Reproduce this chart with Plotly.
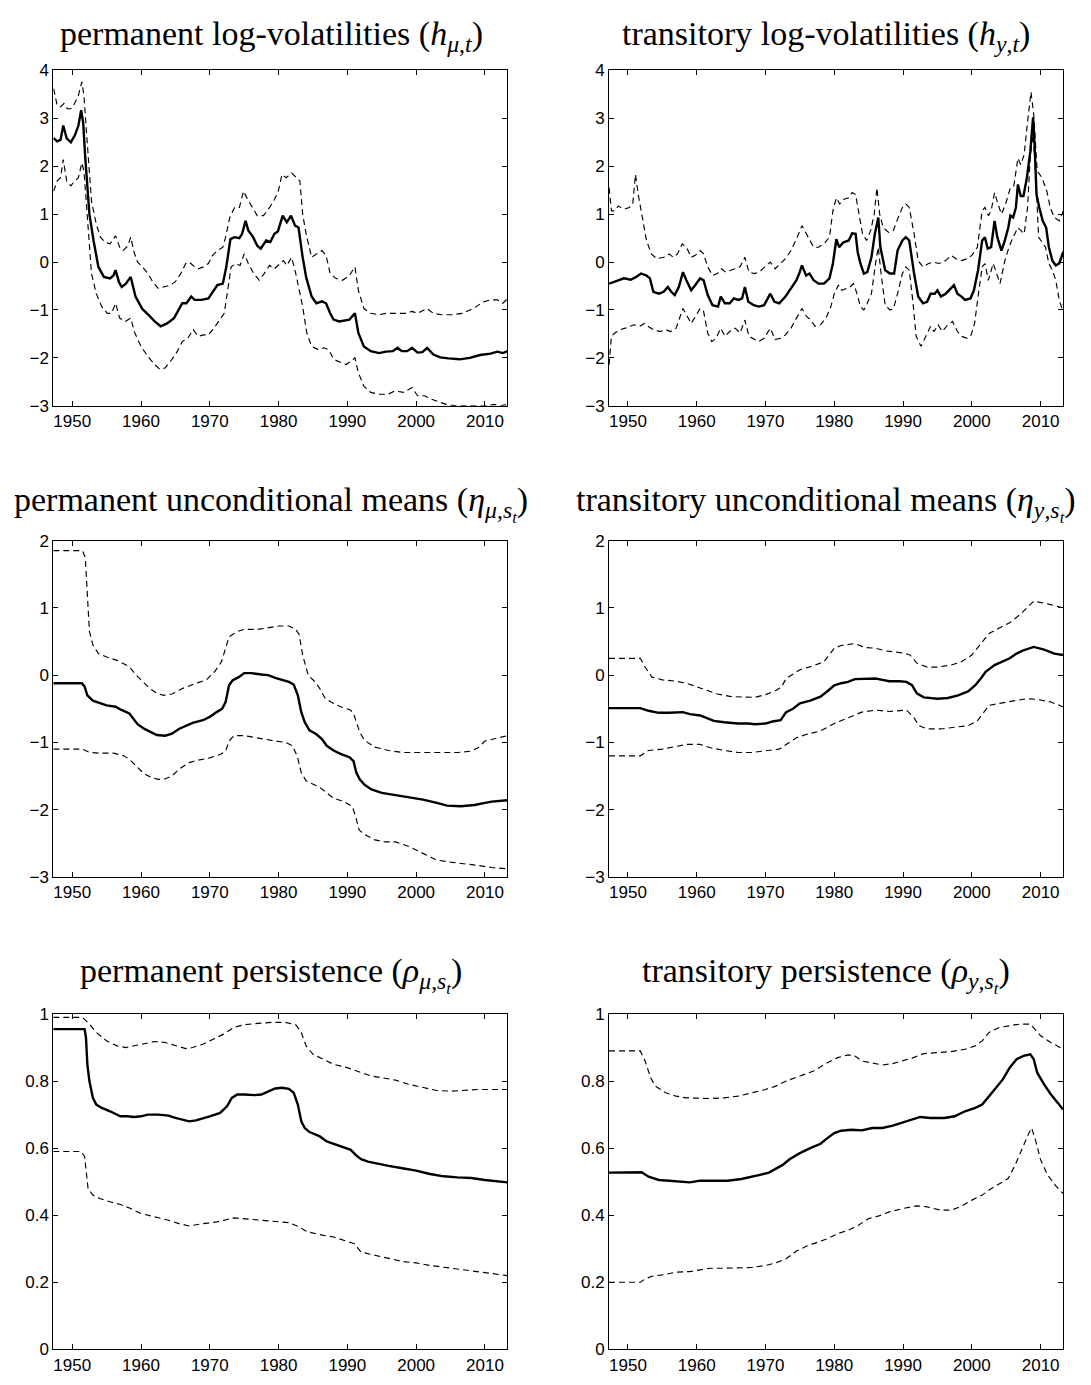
import plotly.graph_objects as go

# ---------------- data (year, value) ----------------
HMU_MED = [(1947.3, 2.59), (1947.8, 2.52), (1948.3, 2.55), (1948.7, 2.85), (1949.2, 2.58), (1949.8, 2.5), (1950.4, 2.65),
           (1950.9, 2.85), (1951.3, 3.17), (1951.6, 2.9), (1951.9, 2.17), (1952.5, 1.0), (1953.1, 0.45), (1953.8, -0.1),
           (1954.6, -0.31), (1955.5, -0.34), (1956.0, -0.28), (1956.3, -0.17), (1956.8, -0.42), (1957.2, -0.52),
           (1957.8, -0.45), (1958.5, -0.31), (1959.2, -0.72), (1960.2, -0.98), (1961.2, -1.12), (1962.0, -1.24),
           (1962.85, -1.34), (1963.8, -1.28), (1964.8, -1.17), (1965.5, -1.0), (1966.0, -0.86), (1966.6, -0.86),
           (1967.3, -0.72), (1967.8, -0.79), (1968.8, -0.79), (1969.8, -0.76), (1970.6, -0.59), (1971.1, -0.48),
           (1971.9, -0.45), (1972.4, -0.1), (1973.0, 0.48), (1973.6, 0.52), (1974.3, 0.5), (1974.7, 0.59),
           (1975.2, 0.86), (1975.6, 0.66), (1976.3, 0.52), (1976.9, 0.34), (1977.4, 0.28), (1978.2, 0.45),
           (1978.8, 0.42), (1979.4, 0.59), (1979.9, 0.64), (1980.6, 0.97), (1981.2, 0.83), (1981.8, 0.97),
           (1982.4, 0.76), (1982.9, 0.72), (1983.5, 0.1), (1984.0, -0.31), (1984.8, -0.72), (1985.5, -0.86),
           (1986.3, -0.82), (1986.9, -0.86), (1987.5, -1.07), (1988.0, -1.2), (1988.8, -1.24), (1989.6, -1.22),
           (1990.3, -1.2), (1991.1, -1.07), (1991.6, -1.48), (1992.4, -1.76), (1993.4, -1.86), (1994.6, -1.9),
           (1995.6, -1.87), (1996.6, -1.86), (1997.3, -1.79), (1997.9, -1.86), (1998.7, -1.86), (1999.4, -1.79),
           (2000.2, -1.89), (2000.9, -1.88), (2001.6, -1.79), (2002.5, -1.93), (2003.5, -1.99), (2004.7, -2.01),
           (2006.3, -2.03), (2007.8, -2.0), (2009.3, -1.94), (2010.8, -1.91), (2011.8, -1.87), (2012.6, -1.9),
           (2013.3, -1.86)]
HMU_UP = [(1947.3, 3.62), (1947.8, 3.28), (1948.3, 3.24), (1948.8, 3.31), (1949.3, 3.2), (1949.8, 3.2), (1950.35, 3.31),
          (1950.9, 3.48), (1951.4, 3.76), (1951.7, 3.48), (1952.1, 2.66), (1952.5, 1.83), (1952.8, 1.28), (1953.5, 0.79),
          (1954.1, 0.52), (1954.8, 0.41), (1955.5, 0.38), (1956.3, 0.55), (1956.9, 0.31), (1957.4, 0.24), (1958.1, 0.34),
          (1958.5, 0.52), (1959.0, 0.2), (1959.5, 0.0), (1960.2, -0.1), (1961.0, -0.24), (1961.7, -0.41), (1962.5, -0.55),
          (1963.3, -0.52), (1964.3, -0.48), (1965.0, -0.41), (1965.8, -0.24), (1966.5, -0.03), (1967.0, 0.0),
          (1967.8, -0.1), (1968.3, -0.14), (1969.1, -0.1), (1969.8, -0.03), (1970.4, 0.14), (1971.1, 0.24),
          (1971.9, 0.31), (1972.3, 0.52), (1972.9, 0.93), (1973.6, 1.14), (1974.3, 1.14), (1974.9, 1.48), (1975.5, 1.31),
          (1976.2, 1.14), (1976.9, 0.97), (1977.8, 0.97), (1978.7, 1.14), (1979.4, 1.31), (1979.9, 1.45), (1980.5, 1.83),
          (1981.1, 1.76), (1981.9, 1.86), (1982.6, 1.76), (1983.1, 1.69), (1983.5, 1.0), (1984.0, 0.59), (1984.8, 0.1),
          (1985.5, 0.17), (1986.3, 0.24), (1986.9, 0.14), (1987.5, -0.24), (1988.3, -0.34), (1989.3, -0.38),
          (1990.3, -0.28), (1991.1, -0.1), (1991.6, -0.59), (1992.4, -0.97), (1993.4, -1.07), (1994.6, -1.1),
          (1995.6, -1.07), (1997.1, -1.07), (1998.4, -1.07), (1999.4, -1.03), (2000.2, -1.07), (2001.6, -0.97),
          (2002.5, -1.07), (2003.7, -1.1), (2005.2, -1.1), (2006.7, -1.07), (2008.3, -0.97), (2009.8, -0.83),
          (2010.8, -0.79), (2011.8, -0.79), (2012.6, -0.86), (2013.3, -0.76)]
HMU_LO = [(1947.3, 1.48), (1947.8, 1.69), (1948.3, 1.76), (1948.7, 2.14), (1949.2, 1.69), (1949.8, 1.59), (1950.35, 1.69),
          (1950.9, 1.76), (1951.4, 2.07), (1951.7, 1.9), (1952.1, 1.14), (1952.5, 0.31), (1952.8, -0.24), (1953.5, -0.66),
          (1954.3, -0.93), (1955.1, -1.07), (1955.7, -1.07), (1956.3, -0.86), (1956.9, -1.17), (1957.7, -1.24),
          (1958.5, -1.17), (1959.1, -1.48), (1960.0, -1.76), (1961.0, -1.97), (1962.0, -2.14), (1962.75, -2.24),
          (1963.5, -2.21), (1964.5, -2.03), (1965.3, -1.86), (1966.0, -1.66), (1966.8, -1.59), (1967.6, -1.41),
          (1968.3, -1.55), (1969.1, -1.52), (1969.8, -1.52), (1970.6, -1.38), (1971.3, -1.24), (1972.1, -1.07),
          (1972.6, -0.59), (1973.1, -0.1), (1973.8, -0.03), (1974.4, -0.07), (1975.0, 0.17), (1975.6, -0.03),
          (1976.4, -0.24), (1977.2, -0.38), (1977.9, -0.24), (1978.7, -0.07), (1979.4, -0.14), (1980.2, -0.03),
          (1980.7, 0.03), (1981.2, -0.07), (1981.9, 0.1), (1982.5, -0.24), (1983.0, -0.59), (1983.5, -0.93),
          (1984.1, -1.48), (1984.8, -1.76), (1985.8, -1.83), (1986.6, -1.79), (1987.3, -1.83), (1988.0, -2.03),
          (1989.1, -2.1), (1989.8, -2.14), (1990.5, -2.07), (1991.1, -2.0), (1991.6, -2.31), (1992.4, -2.59),
          (1993.4, -2.72), (1994.6, -2.76), (1995.9, -2.76), (1996.9, -2.69), (1998.2, -2.72), (1999.4, -2.62),
          (2000.2, -2.79), (2001.2, -2.79), (2002.2, -2.86), (2003.5, -2.93), (2004.7, -2.99), (2006.3, -3.0),
          (2007.8, -3.0), (2009.3, -2.99), (2010.3, -3.0), (2011.3, -2.97), (2012.3, -3.0), (2013.3, -2.97)]

HY_MED = [(1947.27, -0.45), (1947.9, -0.41), (1948.6, -0.38), (1949.4, -0.34), (1950.4, -0.37), (1951.2, -0.31),
          (1951.9, -0.24), (1952.7, -0.28), (1953.2, -0.34), (1953.7, -0.62), (1954.5, -0.66), (1955.2, -0.62),
          (1955.8, -0.52), (1956.3, -0.62), (1956.8, -0.69), (1957.4, -0.52), (1958.0, -0.21), (1958.5, -0.38),
          (1959.2, -0.59), (1959.8, -0.48), (1960.5, -0.34), (1961.0, -0.38), (1961.6, -0.69), (1962.3, -0.9),
          (1963.1, -0.93), (1963.5, -0.72), (1964.1, -0.86), (1964.8, -0.86), (1965.4, -0.76), (1966.1, -0.79),
          (1966.6, -0.76), (1967.0, -0.52), (1967.5, -0.83), (1968.3, -0.9), (1969.0, -0.93), (1969.8, -0.9),
          (1970.7, -0.66), (1971.3, -0.83), (1972.0, -0.86), (1972.9, -0.72), (1973.7, -0.55), (1974.5, -0.38),
          (1974.9, -0.24), (1975.3, -0.07), (1975.9, -0.28), (1976.4, -0.24), (1977.0, -0.38), (1977.7, -0.45),
          (1978.5, -0.45), (1979.3, -0.34), (1979.8, -0.03), (1980.3, 0.48), (1980.7, 0.31), (1981.3, 0.41),
          (1982.1, 0.45), (1982.6, 0.6), (1983.1, 0.59), (1983.4, 0.21), (1983.8, -0.03), (1984.3, -0.24),
          (1984.8, -0.21), (1985.4, 0.1), (1985.9, 0.59), (1986.4, 0.93), (1986.7, 0.31), (1987.4, -0.17),
          (1988.1, -0.24), (1988.7, -0.24), (1989.2, 0.24), (1989.9, 0.45), (1990.4, 0.52), (1990.9, 0.45),
          (1991.6, -0.24), (1992.2, -0.72), (1992.9, -0.86), (1993.5, -0.83), (1994.0, -0.66), (1994.6, -0.66),
          (1995.0, -0.59), (1995.5, -0.72), (1996.2, -0.66), (1996.7, -0.59), (1997.4, -0.48), (1997.9, -0.66),
          (1998.5, -0.72), (1999.0, -0.79), (1999.8, -0.76), (2000.3, -0.59), (2000.9, -0.17), (2001.5, 0.45),
          (2001.9, 0.52), (2002.3, 0.28), (2002.8, 0.31), (2003.3, 0.86), (2003.7, 0.52), (2004.3, 0.24),
          (2004.8, 0.45), (2005.3, 0.72), (2005.6, 0.97), (2006.0, 0.93), (2006.4, 1.14), (2006.7, 1.62),
          (2007.1, 1.38), (2007.5, 1.38), (2008.0, 1.76), (2008.5, 2.31), (2008.9, 3.02), (2009.1, 2.52),
          (2009.4, 1.41), (2009.8, 1.14), (2010.3, 0.86), (2010.8, 0.72), (2011.2, 0.31), (2011.7, 0.03),
          (2012.2, -0.07), (2012.7, -0.03), (2013.1, 0.17), (2013.3, 0.22)]
HY_UP = [(1947.27, 1.55), (1947.6, 1.07), (1948.1, 1.07), (1948.6, 1.17), (1949.4, 1.1), (1950.2, 1.14), (1950.7, 1.21),
         (1951.1, 1.83), (1951.5, 1.41), (1952.1, 0.93), (1952.7, 0.45), (1953.4, 0.17), (1954.2, 0.07), (1955.2, 0.1),
         (1956.0, 0.17), (1956.6, 0.1), (1957.2, 0.17), (1957.9, 0.38), (1958.5, 0.31), (1959.2, 0.1), (1959.8, 0.14),
         (1960.5, 0.24), (1961.0, 0.17), (1961.6, -0.1), (1962.3, -0.28), (1963.0, -0.24), (1963.6, -0.14),
         (1964.2, -0.21), (1964.9, -0.17), (1965.6, -0.14), (1966.3, -0.1), (1967.0, 0.1), (1967.6, -0.21),
         (1968.4, -0.24), (1969.1, -0.21), (1969.9, -0.1), (1970.7, 0.0), (1971.4, -0.14), (1972.2, -0.03),
         (1972.9, 0.07), (1973.7, 0.24), (1974.5, 0.48), (1975.3, 0.76), (1975.9, 0.59), (1976.5, 0.45), (1977.0, 0.31),
         (1977.7, 0.31), (1978.5, 0.38), (1979.3, 0.52), (1979.8, 1.07), (1980.3, 1.34), (1980.8, 1.21), (1981.4, 1.31),
         (1982.1, 1.34), (1982.6, 1.45), (1983.1, 1.41), (1983.6, 1.0), (1984.1, 0.59), (1984.7, 0.45), (1985.3, 0.66),
         (1985.8, 1.0), (1986.2, 1.55), (1986.6, 1.0), (1987.1, 0.72), (1987.9, 0.62), (1988.6, 0.66), (1989.1, 0.86),
         (1989.9, 1.14), (1990.4, 1.21), (1990.9, 1.14), (1991.6, 0.59), (1992.2, 0.03), (1992.9, -0.1),
         (1993.7, -0.03), (1994.4, 0.0), (1995.2, -0.03), (1996.2, 0.03), (1997.0, 0.14), (1997.7, 0.07),
         (1998.5, 0.03), (1999.3, 0.07), (2000.0, 0.14), (2000.8, 0.31), (2001.5, 1.07), (2001.9, 1.14),
         (2002.4, 0.97), (2002.8, 1.07), (2003.3, 1.45), (2003.8, 1.21), (2004.3, 1.0), (2004.9, 1.21), (2005.6, 1.55),
         (2006.1, 1.59), (2006.7, 2.17), (2007.1, 2.03), (2007.6, 2.24), (2008.1, 2.93), (2008.6, 3.55), (2009.0, 3.07),
         (2009.5, 1.9), (2010.2, 1.76), (2010.9, 1.48), (2011.4, 1.14), (2012.0, 0.93), (2012.7, 0.86), (2013.3, 1.07)]
HY_LO = [(1947.27, -2.14), (1947.6, -1.55), (1948.1, -1.48), (1948.9, -1.41), (1949.6, -1.38), (1950.4, -1.34),
         (1950.9, -1.31), (1951.7, -1.34), (1952.4, -1.28), (1952.9, -1.34), (1953.7, -1.41), (1954.7, -1.45),
         (1955.5, -1.41), (1956.2, -1.45), (1957.0, -1.38), (1958.0, -0.97), (1958.5, -1.1), (1959.2, -1.28),
         (1959.8, -1.14), (1960.5, -0.97), (1961.0, -1.03), (1961.6, -1.48), (1962.2, -1.66), (1962.8, -1.59),
         (1963.5, -1.38), (1964.1, -1.55), (1964.8, -1.45), (1965.6, -1.38), (1966.3, -1.48), (1967.0, -1.21),
         (1967.6, -1.55), (1968.4, -1.62), (1969.0, -1.66), (1969.8, -1.59), (1970.7, -1.38), (1971.4, -1.62),
         (1972.2, -1.59), (1972.9, -1.52), (1973.7, -1.38), (1974.5, -1.17), (1975.3, -0.97), (1976.0, -1.14),
         (1976.6, -1.21), (1977.2, -1.34), (1978.0, -1.31), (1978.8, -1.17), (1979.5, -0.93), (1980.0, -0.66),
         (1980.6, -0.48), (1981.1, -0.59), (1981.7, -0.55), (1982.3, -0.52), (1982.8, -0.45), (1983.3, -0.66),
         (1983.8, -0.93), (1984.3, -1.0), (1984.8, -0.86), (1985.4, -0.66), (1986.0, -0.03), (1986.4, 0.31),
         (1986.8, -0.24), (1987.4, -0.9), (1988.1, -1.0), (1988.6, -0.97), (1989.2, -0.66), (1989.9, -0.24),
         (1990.4, -0.1), (1990.9, -0.17), (1991.4, -0.79), (1991.9, -1.55), (1992.6, -1.76), (1993.2, -1.59),
         (1994.0, -1.34), (1994.5, -1.45), (1995.1, -1.31), (1995.7, -1.45), (1996.5, -1.31), (1997.2, -1.24),
         (1997.9, -1.45), (1998.5, -1.55), (1999.3, -1.59), (1999.9, -1.52), (2000.4, -1.28), (2000.9, -0.72),
         (2001.5, -0.1), (2001.9, -0.03), (2002.4, -0.38), (2003.1, -0.03), (2003.6, -0.24), (2004.1, -0.45),
         (2004.8, 0.03), (2005.4, 0.31), (2006.0, 0.52), (2006.7, 0.72), (2007.1, 0.66), (2007.6, 0.59),
         (2008.1, 1.14), (2008.5, 2.24), (2008.9, 2.66), (2009.3, 1.83), (2009.7, 0.52), (2010.2, 0.41),
         (2010.7, 0.31), (2011.2, -0.03), (2011.7, -0.17), (2012.2, -0.38), (2012.7, -0.79), (2013.1, -0.97),
         (2013.3, -0.88)]

ETAMU_MED = [(1947.25, -0.12), (1951.4, -0.12), (1951.8, -0.17), (1952.2, -0.3), (1953.0, -0.38), (1954.0, -0.42),
             (1955.0, -0.45), (1956.3, -0.47), (1957.0, -0.51), (1958.3, -0.57), (1958.8, -0.64), (1959.5, -0.73),
             (1960.5, -0.8), (1961.5, -0.85), (1962.3, -0.89), (1963.5, -0.9), (1964.5, -0.87), (1965.5, -0.8),
             (1966.5, -0.75), (1967.5, -0.71), (1969.0, -0.67), (1970.0, -0.62), (1971.0, -0.55), (1971.8, -0.5),
             (1972.3, -0.4), (1972.8, -0.15), (1973.3, -0.08), (1974.2, -0.03), (1975.0, 0.03), (1976.0, 0.03),
             (1977.5, 0.01), (1978.5, 0.0), (1979.5, -0.04), (1980.5, -0.07), (1981.5, -0.1), (1982.2, -0.14),
             (1982.8, -0.3), (1983.3, -0.55), (1983.8, -0.7), (1984.5, -0.82), (1985.5, -0.88), (1986.3, -0.95),
             (1987.0, -1.05), (1988.0, -1.12), (1989.0, -1.17), (1990.3, -1.22), (1990.9, -1.28), (1991.3, -1.45),
             (1991.8, -1.55), (1992.5, -1.63), (1993.5, -1.7), (1995.0, -1.75), (1997.0, -1.78), (1999.0, -1.81),
             (2001.0, -1.85), (2003.0, -1.9), (2004.5, -1.94), (2006.5, -1.95), (2008.5, -1.93), (2010.0, -1.9),
             (2011.0, -1.88), (2013.25, -1.86)]
ETAMU_UP = [(1947.25, 1.85), (1951.5, 1.85), (1951.9, 1.75), (1952.1, 1.4), (1952.3, 0.9), (1952.5, 0.65), (1953.0, 0.45),
            (1953.8, 0.32), (1955.0, 0.27), (1956.5, 0.22), (1958.0, 0.14), (1958.5, 0.1), (1959.3, 0.0),
            (1960.3, -0.1), (1961.3, -0.2), (1962.3, -0.27), (1963.3, -0.3), (1964.5, -0.28), (1966.0, -0.2),
            (1968.0, -0.12), (1969.5, -0.07), (1970.7, 0.05), (1971.7, 0.2), (1972.3, 0.4), (1972.8, 0.57),
            (1974.0, 0.65), (1975.0, 0.68), (1977.0, 0.68), (1978.5, 0.7), (1980.0, 0.73), (1981.5, 0.73),
            (1982.5, 0.68), (1983.0, 0.6), (1983.5, 0.3), (1984.3, 0.0), (1985.3, -0.1), (1986.0, -0.2),
            (1986.8, -0.35), (1988.0, -0.42), (1989.0, -0.47), (1990.5, -0.52), (1991.0, -0.6), (1991.8, -0.85),
            (1992.5, -0.97), (1994.0, -1.07), (1996.0, -1.12), (1998.0, -1.15), (2000.0, -1.15), (2002.0, -1.15),
            (2004.0, -1.15), (2006.0, -1.15), (2008.0, -1.13), (2009.0, -1.08), (2010.0, -0.98), (2011.5, -0.94),
            (2013.25, -0.9)]
ETAMU_LO = [(1947.25, -1.1), (1951.5, -1.1), (1952.5, -1.15), (1954.0, -1.16), (1956.0, -1.16), (1957.5, -1.2),
            (1958.3, -1.25), (1959.3, -1.35), (1960.5, -1.47), (1961.5, -1.52), (1962.5, -1.55), (1963.3, -1.55),
            (1964.5, -1.5), (1965.5, -1.4), (1967.0, -1.3), (1968.0, -1.27), (1970.0, -1.23), (1971.5, -1.18),
            (1972.3, -1.13), (1972.8, -0.98), (1973.5, -0.9), (1975.0, -0.9), (1977.0, -0.94), (1979.0, -0.97),
            (1981.0, -1.0), (1982.0, -1.05), (1982.7, -1.2), (1983.3, -1.45), (1984.0, -1.57), (1985.0, -1.62),
            (1986.0, -1.67), (1987.0, -1.75), (1988.0, -1.83), (1989.5, -1.88), (1990.7, -1.95), (1991.2, -2.1),
            (1991.7, -2.3), (1992.5, -2.37), (1994.0, -2.45), (1995.5, -2.48), (1997.0, -2.48), (1999.0, -2.55),
            (2001.0, -2.65), (2003.0, -2.75), (2005.0, -2.78), (2007.0, -2.8), (2009.0, -2.83), (2011.0, -2.86),
            (2013.25, -2.88)]

ETAY_MED = [(1947.25, -0.49), (1951.8, -0.49), (1953.0, -0.53), (1954.5, -0.56), (1956.0, -0.56), (1958.0, -0.55),
            (1959.0, -0.58), (1960.5, -0.6), (1961.5, -0.64), (1962.5, -0.68), (1964.0, -0.7), (1966.0, -0.72),
            (1967.5, -0.72), (1968.5, -0.73), (1970.0, -0.72), (1971.0, -0.69), (1972.2, -0.67), (1973.0, -0.55),
            (1974.0, -0.5), (1975.0, -0.42), (1976.5, -0.38), (1978.0, -0.32), (1979.0, -0.24), (1980.0, -0.15),
            (1981.0, -0.12), (1982.0, -0.1), (1983.0, -0.06), (1984.5, -0.06), (1986.0, -0.05), (1987.0, -0.07),
            (1988.0, -0.09), (1989.5, -0.09), (1990.5, -0.1), (1991.3, -0.15), (1992.0, -0.27), (1993.0, -0.33),
            (1995.0, -0.35), (1996.5, -0.34), (1998.0, -0.3), (1999.5, -0.24), (2000.5, -0.15), (2001.3, -0.05),
            (2002.0, 0.05), (2003.3, 0.15), (2004.5, 0.2), (2005.5, 0.25), (2006.5, 0.32), (2007.5, 0.37),
            (2009.0, 0.42), (2010.5, 0.38), (2012.0, 0.32), (2013.25, 0.3)]
ETAY_UP = [(1947.25, 0.25), (1951.8, 0.25), (1952.5, 0.12), (1953.5, -0.03), (1955.0, -0.07), (1957.0, -0.09),
           (1958.5, -0.12), (1960.0, -0.17), (1961.5, -0.23), (1963.0, -0.28), (1965.0, -0.32), (1967.0, -0.33),
           (1968.5, -0.33), (1970.0, -0.29), (1971.5, -0.23), (1972.3, -0.18), (1973.0, -0.05), (1975.0, 0.08),
           (1977.0, 0.14), (1978.5, 0.2), (1980.0, 0.4), (1981.0, 0.44), (1983.0, 0.47), (1984.5, 0.41),
           (1986.0, 0.4), (1987.5, 0.36), (1990.0, 0.33), (1991.0, 0.3), (1992.0, 0.18), (1993.5, 0.12),
           (1995.0, 0.12), (1997.0, 0.15), (1998.5, 0.2), (2000.0, 0.3), (2001.5, 0.5), (2002.5, 0.62), (2004.0, 0.7),
           (2005.5, 0.78), (2007.0, 0.9), (2008.5, 1.05), (2009.0, 1.1), (2011.0, 1.06), (2013.25, 1.0)]
ETAY_LO = [(1947.25, -1.2), (1951.8, -1.2), (1953.0, -1.12), (1955.0, -1.1), (1957.0, -1.06), (1958.5, -1.03),
           (1960.5, -1.03), (1962.0, -1.08), (1964.0, -1.12), (1966.0, -1.15), (1968.0, -1.15), (1970.0, -1.12),
           (1972.0, -1.1), (1973.0, -1.03), (1974.5, -0.93), (1976.0, -0.88), (1978.0, -0.83), (1980.0, -0.72),
           (1982.0, -0.64), (1984.0, -0.55), (1986.0, -0.52), (1988.0, -0.54), (1990.5, -0.52), (1991.5, -0.62),
           (1992.3, -0.75), (1993.5, -0.8), (1995.5, -0.8), (1997.5, -0.77), (1999.5, -0.75), (2000.8, -0.68),
           (2001.7, -0.55), (2002.5, -0.45), (2004.0, -0.42), (2006.0, -0.38), (2008.0, -0.35), (2009.5, -0.36),
           (2011.5, -0.4), (2013.25, -0.47)]

RHOMU_MED = [(1947.25, 0.955), (1951.8, 0.955), (1952.0, 0.93), (1952.2, 0.85), (1952.5, 0.8), (1953.0, 0.75),
             (1953.5, 0.73), (1954.3, 0.72), (1955.5, 0.71), (1957.0, 0.695), (1958.0, 0.695), (1959.0, 0.693),
             (1960.0, 0.695), (1961.0, 0.7), (1962.5, 0.7), (1964.0, 0.697), (1965.0, 0.69), (1966.0, 0.684),
             (1967.0, 0.68), (1968.0, 0.683), (1969.0, 0.69), (1970.0, 0.695), (1971.5, 0.705), (1972.5, 0.725),
             (1973.2, 0.75), (1974.0, 0.76), (1975.0, 0.76), (1976.5, 0.758), (1977.5, 0.76), (1978.5, 0.77),
             (1979.5, 0.778), (1980.5, 0.78), (1981.5, 0.777), (1982.2, 0.765), (1982.8, 0.73), (1983.3, 0.68),
             (1983.8, 0.66), (1984.5, 0.648), (1986.0, 0.635), (1987.0, 0.62), (1988.0, 0.613), (1989.0, 0.605),
             (1990.5, 0.595), (1991.2, 0.58), (1992.0, 0.567), (1993.0, 0.56), (1994.5, 0.553), (1996.0, 0.547),
             (1998.0, 0.54), (2000.0, 0.533), (2002.0, 0.523), (2004.0, 0.516), (2006.0, 0.513), (2008.0, 0.511),
             (2010.0, 0.505), (2011.5, 0.502), (2013.25, 0.498)]
RHOMU_UP = [(1947.25, 0.99), (1951.5, 0.99), (1952.5, 0.97), (1953.5, 0.945), (1955.0, 0.92), (1956.5, 0.905),
            (1957.8, 0.9), (1959.0, 0.905), (1960.5, 0.913), (1962.0, 0.918), (1963.5, 0.915), (1965.0, 0.905),
            (1966.5, 0.897), (1967.5, 0.9), (1969.0, 0.91), (1970.5, 0.925), (1972.0, 0.94), (1973.5, 0.96),
            (1975.0, 0.968), (1977.0, 0.972), (1979.0, 0.975), (1981.0, 0.975), (1982.5, 0.968), (1983.3, 0.945),
            (1984.0, 0.905), (1985.0, 0.88), (1986.5, 0.865), (1988.0, 0.85), (1990.0, 0.84), (1992.0, 0.825),
            (1993.5, 0.815), (1995.0, 0.81), (1997.0, 0.803), (1999.0, 0.79), (2001.0, 0.78), (2003.0, 0.772),
            (2005.0, 0.77), (2007.0, 0.773), (2009.0, 0.775), (2011.0, 0.775), (2013.25, 0.775)]
RHOMU_LO = [(1947.25, 0.59), (1951.3, 0.59), (1951.8, 0.575), (1952.0, 0.53), (1952.3, 0.48), (1953.0, 0.46),
            (1954.0, 0.45), (1955.5, 0.44), (1957.0, 0.432), (1958.5, 0.42), (1960.0, 0.405), (1962.0, 0.395),
            (1964.0, 0.385), (1965.5, 0.375), (1967.0, 0.368), (1969.0, 0.375), (1971.0, 0.38), (1973.5, 0.392),
            (1975.5, 0.388), (1977.5, 0.385), (1979.5, 0.38), (1981.5, 0.378), (1983.0, 0.365), (1984.0, 0.352),
            (1986.0, 0.342), (1988.0, 0.335), (1990.0, 0.322), (1991.0, 0.315), (1992.0, 0.29), (1994.0, 0.28),
            (1996.0, 0.272), (1998.0, 0.262), (2000.0, 0.258), (2002.0, 0.25), (2004.0, 0.245), (2006.0, 0.24),
            (2008.0, 0.234), (2010.0, 0.228), (2011.5, 0.225), (2013.25, 0.22)]

RHOY_MED = [(1947.25, 0.527), (1952.0, 0.528), (1953.0, 0.515), (1954.5, 0.505), (1956.0, 0.503), (1957.5, 0.5),
            (1959.0, 0.498), (1960.5, 0.503), (1962.5, 0.503), (1964.5, 0.503), (1966.5, 0.508), (1968.0, 0.514),
            (1969.5, 0.522), (1970.5, 0.527), (1971.5, 0.538), (1972.5, 0.55), (1973.5, 0.567), (1975.0, 0.585),
            (1976.5, 0.6), (1978.0, 0.613), (1979.0, 0.63), (1980.0, 0.645), (1981.0, 0.652), (1982.5, 0.655),
            (1984.0, 0.653), (1985.5, 0.66), (1987.0, 0.66), (1988.5, 0.667), (1990.0, 0.677), (1991.0, 0.683),
            (1992.5, 0.693), (1994.0, 0.69), (1996.0, 0.69), (1997.5, 0.695), (1999.0, 0.71), (2000.5, 0.72),
            (2001.5, 0.73), (2002.5, 0.755), (2003.5, 0.78), (2004.5, 0.805), (2005.5, 0.84), (2006.5, 0.865),
            (2007.5, 0.875), (2008.5, 0.88), (2009.0, 0.865), (2009.5, 0.825), (2010.5, 0.79), (2011.5, 0.76),
            (2012.5, 0.735), (2013.25, 0.715)]
RHOY_UP = [(1947.25, 0.89), (1951.8, 0.89), (1952.5, 0.86), (1953.3, 0.81), (1954.0, 0.785), (1955.5, 0.765),
           (1957.0, 0.755), (1958.5, 0.75), (1960.0, 0.749), (1962.0, 0.748), (1964.0, 0.75), (1966.0, 0.755),
           (1968.0, 0.765), (1970.0, 0.775), (1971.5, 0.785), (1973.0, 0.8), (1975.0, 0.815), (1977.0, 0.83),
           (1979.0, 0.855), (1980.5, 0.87), (1982.0, 0.878), (1983.0, 0.875), (1984.0, 0.86), (1985.5, 0.853),
           (1987.0, 0.848), (1988.5, 0.852), (1990.0, 0.86), (1991.5, 0.87), (1993.0, 0.882), (1995.0, 0.885),
           (1997.0, 0.888), (1999.0, 0.895), (2000.5, 0.905), (2001.5, 0.92), (2002.5, 0.945), (2004.0, 0.96),
           (2005.5, 0.966), (2007.0, 0.97), (2008.5, 0.97), (2009.2, 0.955), (2010.0, 0.935), (2011.5, 0.915),
           (2013.25, 0.895)]
RHOY_LO = [(1947.25, 0.2), (1951.8, 0.2), (1952.5, 0.21), (1953.5, 0.218), (1955.0, 0.222), (1957.0, 0.23),
           (1959.0, 0.232), (1960.5, 0.238), (1962.0, 0.242), (1964.0, 0.242), (1966.0, 0.242), (1968.0, 0.244),
           (1970.0, 0.25), (1971.5, 0.258), (1973.0, 0.27), (1974.5, 0.293), (1976.0, 0.308), (1977.5, 0.318),
           (1979.0, 0.33), (1980.5, 0.345), (1982.0, 0.355), (1983.5, 0.37), (1985.0, 0.39), (1986.5, 0.398),
           (1988.0, 0.41), (1990.0, 0.42), (1992.0, 0.428), (1993.5, 0.425), (1995.5, 0.415), (1997.0, 0.415),
           (1998.5, 0.427), (2000.0, 0.445), (2001.5, 0.46), (2002.5, 0.475), (2004.0, 0.495), (2005.3, 0.51),
           (2006.3, 0.55), (2007.3, 0.6), (2008.3, 0.645), (2008.7, 0.66), (2009.3, 0.62), (2010.0, 0.565),
           (2011.0, 0.52), (2012.3, 0.485), (2013.25, 0.465)]

TITLES = [
    "permanent log-volatilities (<i>h</i><sub><i>μ</i>,<i>t</i></sub>)",
    "transitory log-volatilities (<i>h</i><sub><i>y</i>,<i>t</i></sub>)",
    "permanent unconditional means (<i>η</i><sub><i>μ</i>,<i>s</i><sub><i>t</i></sub></sub>)",
    "transitory unconditional means (<i>η</i><sub><i>y</i>,<i>s</i><sub><i>t</i></sub></sub>)",
    "permanent persistence (<i>ρ</i><sub><i>μ</i>,<i>s</i><sub><i>t</i></sub></sub>)",
    "transitory persistence (<i>ρ</i><sub><i>y</i>,<i>s</i><sub><i>t</i></sub></sub>)",
]
X_TICKS = [1950, 1960, 1970, 1980, 1990, 2000, 2010]
Y_TICKS_VOL = [-3, -2, -1, 0, 1, 2, 3, 4]
Y_TICKS_MEAN = [-3, -2, -1, 0, 1, 2]
Y_TICKS_RHO = [0, 0.2, 0.4, 0.6, 0.8, 1]
Y_TICKTEXT_RHO = ["0", "0.2", "0.4", "0.6", "0.8", "1"]
X_RANGE = [1947.25, 2013.25]

# ---------------- layout constants ----------------
W, H = 1091, 1385
COLS_PX = [(53.3, 507.3), (609.0, 1063.0)]
ROWS_PX = [(62.3, 402.3), (539.0, 880.0), (1019.0, 1359.0)]
TITLE_Y_PX = [27, 502, 979]
TITLE_X_PX = [271, 826]
TICK_FONT_SIZE = 17

panels = [
    (HMU_MED, HMU_UP, HMU_LO, [-3, 4], Y_TICKS_VOL, None),
    (HY_MED, HY_UP, HY_LO, [-3, 4], Y_TICKS_VOL, None),
    (ETAMU_MED, ETAMU_UP, ETAMU_LO, [-3, 2], Y_TICKS_MEAN, None),
    (ETAY_MED, ETAY_UP, ETAY_LO, [-3, 2], Y_TICKS_MEAN, None),
    (RHOMU_MED, RHOMU_UP, RHOMU_LO, [0, 1], Y_TICKS_RHO, Y_TICKTEXT_RHO),
    (RHOY_MED, RHOY_UP, RHOY_LO, [0, 1], Y_TICKS_RHO, Y_TICKTEXT_RHO),
]

fig = go.Figure()
layout = dict(
    width=W, height=H, autosize=False,
    margin=dict(l=0, r=0, t=0, b=0),
    paper_bgcolor="white", plot_bgcolor="white",
    showlegend=False,
    font=dict(family="Liberation Sans, Arial, sans-serif", size=TICK_FONT_SIZE, color="black"),
    annotations=[],
)

axis_common = dict(
    showgrid=False, zeroline=False, showline=True, linecolor="black", linewidth=1,
    mirror="ticks", ticks="inside", ticklen=5, tickwidth=1, tickcolor="black",
    tickfont=dict(family="Liberation Sans, Arial, sans-serif", size=TICK_FONT_SIZE, color="black"),
    fixedrange=True,
)

for i, (med, up, lo, yr, yticks, ytext) in enumerate(panels):
    r, c = divmod(i, 2)
    n = i + 1
    xa = "x" if n == 1 else f"x{n}"
    ya = "y" if n == 1 else f"y{n}"
    for series, style in ((lo, "dash"), (up, "dash"), (med, "solid")):
        xs = [p[0] for p in series]
        ys = [p[1] for p in series]
        line = dict(color="black", width=2.4) if style == "solid" else dict(color="black", width=1.15, dash="6px,4px")
        fig.add_trace(go.Scatter(x=xs, y=ys, mode="lines", line=line, xaxis=xa, yaxis=ya, hoverinfo="skip"))
    x0, x1 = COLS_PX[c]
    y0, y1 = ROWS_PX[r]
    xkey = "xaxis" if n == 1 else f"xaxis{n}"
    ykey = "yaxis" if n == 1 else f"yaxis{n}"
    layout[xkey] = dict(axis_common, domain=[x0 / W, x1 / W], range=X_RANGE, tickvals=X_TICKS,
                        anchor=ya)
    ydict = dict(axis_common, domain=[1 - y1 / H, 1 - y0 / H], range=yr, tickvals=yticks, anchor=xa)
    if ytext is not None:
        ydict["ticktext"] = ytext
    layout[ykey] = ydict
    layout["annotations"].append(dict(
        text=TITLES[i], xref="paper", yref="paper",
        x=TITLE_X_PX[c] / W, y=1 - TITLE_Y_PX[r] / H, xanchor="center", yanchor="middle",
        showarrow=False, font=dict(family="Liberation Serif, Times New Roman, serif", size=34, color="black"),
    ))

fig.update_layout(**layout)
fig.write_html(
    "out.html",
    config={"displayModeBar": False, "staticPlot": True},
    post_script="document.body.style.margin='0px';document.body.style.overflow='hidden';",
)
